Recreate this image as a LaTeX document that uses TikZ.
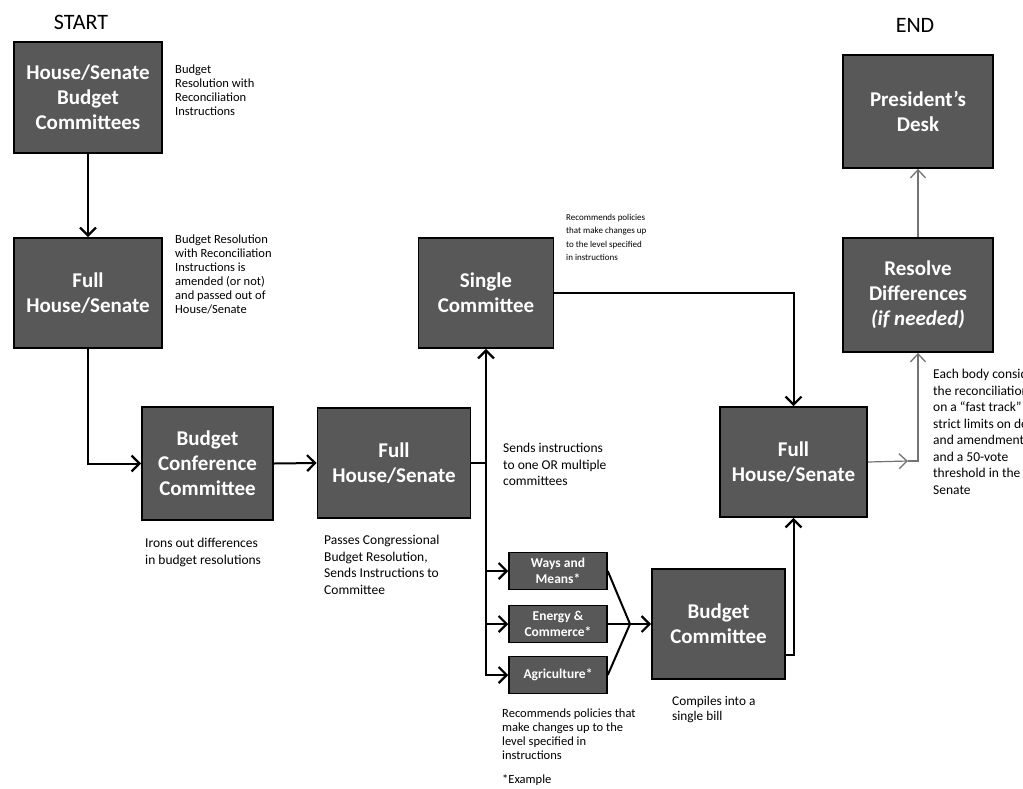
\documentclass[tikz,border=0pt]{standalone}
\usepackage{fontspec}
\setmainfont{Carlito}
\usetikzlibrary{arrows.meta}
\definecolor{boxgray}{RGB}{88,88,88}
\definecolor{lightline}{RGB}{115,115,115}
\tikzset{
  box/.style={draw=black, line width=1.8pt, fill=boxgray, text=white,
    font=\fontsize{21}{25}\selectfont\bfseries, align=center, inner sep=0pt},
  sbox/.style={box, line width=1.5pt, font=\fontsize{13.5}{16}\selectfont\bfseries},
  note/.style={anchor=north west, align=left, inner sep=0pt, font=\fontsize{12.5}{14}\selectfont},
  bignote/.style={note, font=\fontsize{13.5}{16.7}\selectfont},
  smallnote/.style={note, font=\fontsize{9}{13.5}\selectfont},
  title/.style={font=\fontsize{22}{26}\selectfont, inner sep=0pt},
  conn/.style={line width=2pt, draw=black},
  arr/.style={conn, -{Straight Barb[length=8pt,width=16pt,line width=2.2pt]}},
  garr/.style={line width=1.2pt, draw=lightline, -{Straight Barb[length=8pt,width=15pt,line width=1.3pt]}}
}
\begin{document}
\begin{tikzpicture}[x=1pt,y=-1pt]
\useasboundingbox (0,0) rectangle (1023,788);
\clip (0,0) rectangle (1023,788);
\fill[white] (0,0) rectangle (1023,788);

% titles
\node[title] (start) at (81,22) {START};
\node[title] (end) at (915,25) {END};

% main boxes
\node[box, minimum width=148pt, minimum height=111pt] (hsbc) at (88,97.5) {House/Senate\\Budget\\Committees};
\node[box, minimum width=148pt, minimum height=110pt] (fhs1) at (88,293) {Full\\House/Senate};
\node[box, minimum width=131pt, minimum height=113pt] (bcc) at (207.5,463.5) {Budget\\Conference\\Committee};
\node[box, minimum width=153pt, minimum height=110pt] (fhs2) at (394,463) {Full\\House/Senate};
\node[box, minimum width=135pt, minimum height=110pt] (single) at (486,293) {Single\\Committee};
\node[box, minimum width=147pt, minimum height=110pt] (fhs3) at (793.5,462) {Full\\House/Senate};
\node[box, minimum width=133pt, minimum height=110pt] (bc) at (718.5,624) {Budget\\Committee};
\node[box, minimum width=150pt, minimum height=114pt] (resolve) at (918,295) {Resolve\\Differences\\\textit{(if needed)}};
\node[box, minimum width=150pt, minimum height=113pt] (pres) at (918,111.5) {President's\\Desk};

% small committee boxes
\node[sbox, minimum width=98pt, minimum height=37pt] (wm) at (558,571) {Ways and\\Means*};
\node[sbox, minimum width=98pt, minimum height=37pt] (ec) at (558,624) {Energy \&\\Commerce*};
\node[sbox, minimum width=98pt, minimum height=37pt] (ag) at (558,675) {Agriculture*};

% helper coordinates
\coordinate (junc) at (486,463);
\coordinate (merge) at (630,624);
\coordinate (gmid) at (908,461);

% connectors
\draw[arr] (hsbc.south) -- (fhs1.north);
\draw[arr] (fhs1.south) |- (bcc.west);
\draw[arr] (bcc.east) -- (fhs2.west);
\draw[conn] (fhs2.east) -- (junc);
\draw[arr] (junc) -- (single.south);
\draw[arr] (junc) |- (wm.west);
\draw[arr] (junc) |- (ec.west);
\draw[arr] (junc) |- (ag.west);
\draw[conn] (wm.east) -- (merge);
\draw[conn] (ec.east) -- (merge);
\draw[conn] (ag.east) -- (merge);
\draw[arr] (merge) -- (bc.west);
\draw[arr] ([yshift=-31pt]bc.east) -| (fhs3.south);
\draw[arr] (single.east) -| (fhs3.north);
\draw[garr] (fhs3.east) -- (gmid);
\draw[garr] (gmid) -| (resolve.south);
\draw[garr] (resolve.north) -- (pres.south);

% notes
\node[note] (n1) at (175,65) {Budget\\Resolution with\\Reconciliation\\Instructions};
\node[note] (n2) at (175,235) {Budget Resolution\\with Reconciliation\\Instructions is\\amended (or not)\\and passed out of\\House/Senate};
\node[bignote] (n3) at (145,538) {Irons out differences\\in budget resolutions};
\node[bignote] (n4) at (324,535) {Passes Congressional\\Budget Resolution,\\Sends Instructions to\\Committee};
\node[smallnote] (n5) at (566,214) {Recommends policies\\that make changes up\\to the level specified\\in instructions};
\node[bignote] (n6) at (503,443) {Sends instructions\\to one OR multiple\\committees};
\node[note] (n7) at (502,709) {Recommends policies that\\make changes up to the\\level specified in\\instructions};
\node[note] (n8) at (502,774) {*Example};
\node[bignote, font=\fontsize{13.3}{15}\selectfont] (n9) at (672,696) {Compiles into a\\single bill};
\node[note, font=\fontsize{13.5}{16.5}\selectfont] (n10) at (933,369) {Each body considers\\the reconciliation bill\\on a “fast track” with\\strict limits on debate\\and amendments\\and a 50-vote\\threshold in the\\Senate};
\end{tikzpicture}
\end{document}
